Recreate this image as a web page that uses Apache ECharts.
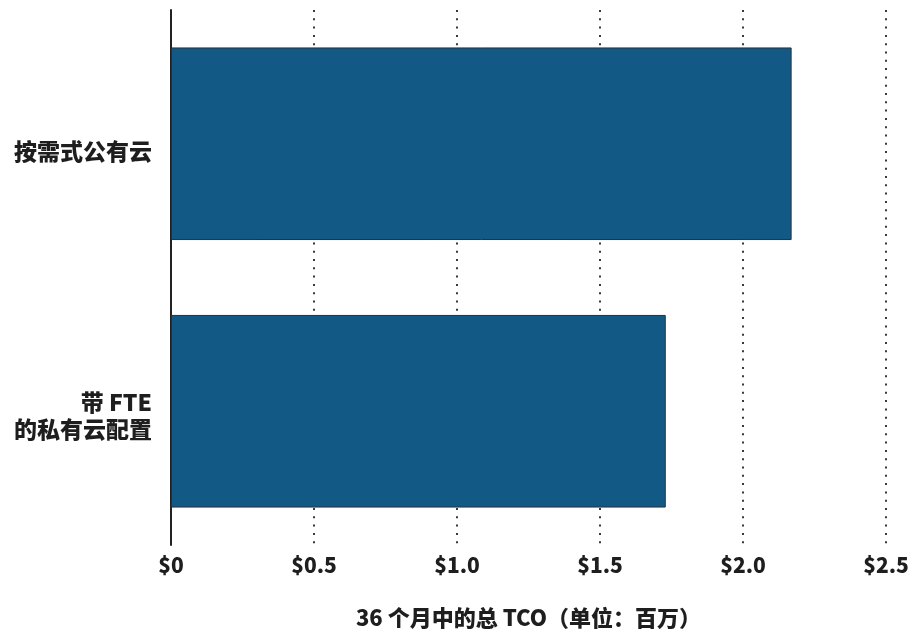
<!DOCTYPE html>
<html>
<head>
<meta charset="utf-8">
<script src="https://cdn.jsdelivr.net/npm/echarts@6/dist/echarts.min.js"></script>
<style>
  html, body { margin: 0; padding: 0; background: #fff; }
  #chart { width: 914px; height: 634px; }
</style>
</head>
<body>
<div id="chart"></div>
<script>
// Total cost of ownership over 36 months, in millions of dollars
const categories = ['带 FTE\n的私有云配置', '按需式公有云'];
const tcoValues = [1.73, 2.17];
const xTicks = [0, 0.5, 1.0, 1.5, 2.0, 2.5];
const xAxisTitle = '36 个月中的总 TCO（单位：百万）';

const FONT = '"Noto Sans CJK SC", "Noto Sans", sans-serif';
const INK = '#1e1e1e';

const catText = {
  color: INK, fontFamily: FONT, fontWeight: 900, fontSize: 23, lineHeight: 27, align: 'right'
};

const chart = echarts.init(document.getElementById('chart'), null, { renderer: 'canvas' });
chart.setOption({
  animation: false,
  backgroundColor: '#ffffff',
  grid: { left: 171, right: 28, top: 10, bottom: 86, containLabel: false },
  xAxis: {
    type: 'value',
    min: xTicks[0],
    max: xTicks[xTicks.length - 1],
    interval: 0.5,
    axisLine: { show: false },
    axisTick: { show: false },
    splitLine: {
      show: true,
      lineStyle: { color: '#333a45', width: 2, type: [2, 6.3] }
    },
    axisLabel: {
      margin: 10,
      color: INK,
      fontFamily: FONT,
      fontWeight: 900,
      fontSize: 21,
      formatter: v => '$' + (v === 0 ? '0' : v.toFixed(1))
    },
    name: xAxisTitle,
    nameLocation: 'middle',
    nameGap: 62,
    nameTextStyle: { color: INK, fontFamily: FONT, fontWeight: 900, fontSize: 22 }
  },
  yAxis: {
    type: 'category',
    data: categories,
    axisLine: { show: true, lineStyle: { color: '#222222', width: 2 } },
    axisTick: { show: false },
    splitLine: { show: false },
    axisLabel: {
      margin: 19,
      align: 'right',
      // a thin spacer line sets each label a little below its band centre
      formatter: v => {
        const lines = v.split('\n');
        const gap = lines.length === 1 ? '{gapA| }' : '{gapB| }';
        return gap + '\n' + lines.map(s => '{t|' + s + '}').join('\n');
      },
      rich: {
        gapA: { fontSize: 1, lineHeight: 15 },
        gapB: { fontSize: 1, lineHeight: 9 },
        t: catText
      }
    }
  },
  series: [{
    type: 'bar',
    data: tcoValues,
    barCategoryGap: '28%',
    itemStyle: { color: '#125a85', borderColor: '#2a2f36', borderWidth: 1 }
  }]
});
</script>
</body>
</html>
